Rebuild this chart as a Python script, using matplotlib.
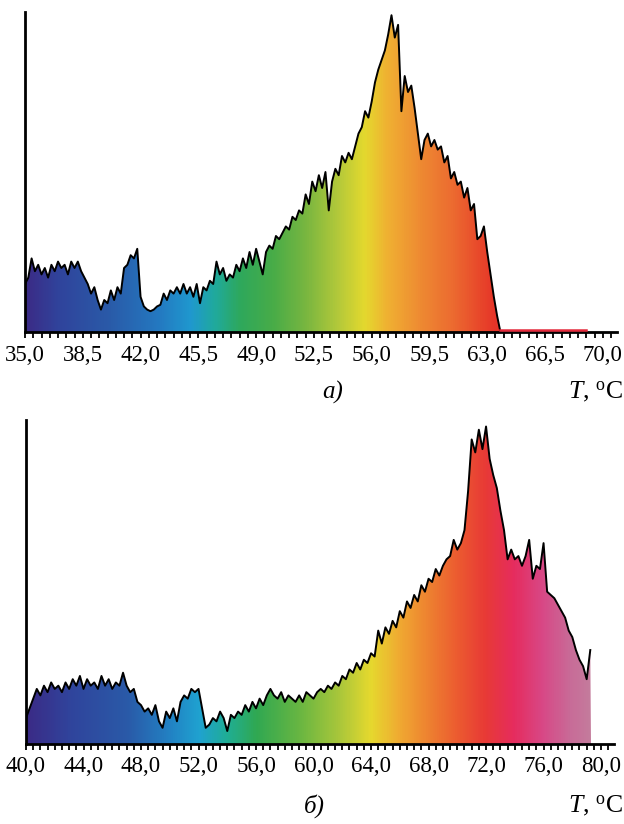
import numpy as np
import matplotlib
matplotlib.use("Agg")
import matplotlib.pyplot as plt
import matplotlib.transforms as mtransforms
from matplotlib.colors import LinearSegmentedColormap
from matplotlib.ticker import MultipleLocator

plt.rcParams['font.family'] = ['Liberation Serif', 'DejaVu Serif']
plt.rcParams['mathtext.fontset'] = 'custom'
plt.rcParams['mathtext.rm'] = 'Liberation Serif'
plt.rcParams['mathtext.it'] = 'Liberation Serif:italic'

# panel a) : 35.0 .. 63.8 step 0.2, then zero tail
a_start, a_step = 35.0, 0.2
a_vals = [15, 17, 23, 19, 21, 18, 20, 17, 21, 19,
          22, 20, 21, 18, 22, 20, 22, 19, 17, 15,
          12, 14, 10, 7, 10, 9, 13, 10, 14, 12,
          20, 21, 24, 23, 26, 11, 8, 7, 6.5, 7,
          8, 8.5, 12, 10, 13, 12, 14, 12, 15, 12,
          14, 11, 15, 9, 14, 13, 16, 15, 22, 18,
          20, 16, 18, 17, 21, 19, 23, 20, 25, 21,
          26, 22, 18, 25, 27, 26, 30, 29, 31, 33,
          32, 36, 35, 38, 37, 43, 40, 47, 44, 49,
          45, 50, 38, 47, 51, 49, 55, 53, 56, 54,
          58, 62, 64, 69, 67, 72, 78, 82, 85, 88,
          93, 99, 92, 96, 69, 80, 75, 77, 70, 62,
          54, 60, 62, 58, 60, 57, 58, 53, 55, 48,
          50, 46, 47, 42, 45, 38, 40, 29, 30, 33,
          25, 18, 11, 5, 0]
a_tail_end = 69.0
a_x = list(np.round(a_start + a_step * np.arange(len(a_vals)), 2)) + [a_tail_end]
a_y = a_vals + [0]

# panel б) : 40.0 .. 79.25 step 0.25
b_start, b_step = 40.0, 0.25
b_vals = [8, 11, 14, 17, 15, 18, 16, 19, 17, 18,
          16, 19, 17, 20, 18, 21, 17, 20, 18, 19,
          17, 21, 18, 20, 17, 19, 18, 22, 18, 16,
          17, 13, 12, 10, 11, 9, 12, 7, 5, 10,
          8, 11, 7, 13, 15, 14, 17, 16, 17, 11,
          5, 6, 8, 7, 10, 8, 4, 9, 8, 10,
          9, 12, 10, 13, 11, 14, 12, 15, 17, 15,
          14, 16, 13, 15, 14, 13, 15, 13, 16, 15,
          14, 16, 17, 16, 18, 17, 19, 18, 21, 20,
          23, 22, 25, 23, 26, 25, 28, 27, 35, 31,
          36, 34, 38, 36, 41, 39, 44, 42, 46, 44,
          49, 47, 51, 50, 54, 52, 55, 57, 58, 63,
          60, 62, 66, 78, 94, 90, 97, 91, 98, 88,
          83, 79, 72, 66, 57, 60, 57, 58, 55, 58,
          63, 51, 55, 54, 62, 47, 46, 45, 43, 41,
          39, 35, 33, 29, 26, 24, 20, 29]
b_end = 79.3
b_x = list(np.round(b_start + b_step * np.arange(len(b_vals)), 2)) + [b_end]
b_y = b_vals + [0]

a_colors = [(35.0, '#3b2b86'), (37.0, '#30449c'), (40.0, '#2a5aa8'), (43.0, '#2478c0'),
            (45.0, '#1f98cf'), (46.5, '#20aa9c'), (48.0, '#2ea85c'), (50.0, '#48ac48'),
            (52.0, '#78b640'), (54.0, '#b4c93a'), (55.6, '#e4d92e'), (57.0, '#f0b032'),
            (59.0, '#ee8a32'), (61.0, '#ec6a30'), (63.5, '#e63428'), (70.86, '#e63428')]
b_colors = [(40.0, '#3b2b86'), (43.0, '#30449c'), (47.0, '#2a5aa8'), (50.0, '#2282c4'),
            (52.0, '#1fa2d0'), (54.0, '#20ae94'), (56.0, '#30a852'), (59.0, '#68b642'),
            (62.0, '#aec83a'), (64.0, '#e6d92e'), (66.0, '#f0aa32'), (68.0, '#ee8230'),
            (70.0, '#ec5c30'), (72.0, '#e83a36'), (74.0, '#e62c5e'), (76.0, '#d84886'),
            (78.0, '#c86c98'), (80.9, '#c08ea2')]


def make_cmap(stops, x0, x1):
    pts = [min(max((p - x0) / (x1 - x0), 0.0), 1.0) for p, c in stops]
    pts[0], pts[-1] = 0.0, 1.0
    return LinearSegmentedColormap.from_list('grad', list(zip(pts, [c for p, c in stops])))


def draw_panel(ax, x, y, stops, xmin, xmax, major):
    x = np.asarray(x, float)
    y = np.asarray(y, float)
    cmap = make_cmap(stops, xmin, xmax)
    poly, = ax.fill(np.r_[x, x[-1], x[0]], np.r_[y, 0, 0],
                    facecolor='none', edgecolor='none')
    grad = np.linspace(0, 1, 800).reshape(1, -1)
    im = ax.imshow(grad, cmap=cmap, aspect='auto', extent=[xmin, xmax, 0, 100],
                   origin='lower', zorder=1, interpolation='bilinear')
    im.set_clip_path(poly)
    last = np.nonzero(y > 0)[0][-1]
    stop = last + 2 if last + 1 < len(y) - 1 else last + 1
    ax.plot(x[:stop], y[:stop], color='black', lw=1.4, zorder=3)
    if y[-1] == 0 and y[-2] == 0:
        up = mtransforms.offset_copy(ax.transData, fig=ax.figure, x=0, y=1.6,
                                     units='dots')
        ax.plot(x[last + 1:], y[last + 1:], color='#e42a3c', lw=1.8, zorder=3,
                transform=up)

    ax.set_xlim(xmin, xmax)
    ax.set_ylim(0, 100)
    ax.xaxis.set_major_locator(MultipleLocator(major))
    ax.xaxis.set_minor_locator(MultipleLocator(0.5))
    ax.xaxis.set_major_formatter(
        plt.FuncFormatter(lambda v, p: ('%.1f' % v).replace('.', ',')))
    ax.tick_params(axis='x', which='both', direction='out', length=4.5, width=1.3,
                   labelsize=16.5, pad=4.5, colors='black')
    ax.set_yticks([])
    for s in ['top', 'right']:
        ax.spines[s].set_visible(False)
    ax.spines['left'].set_linewidth(2.0)
    ax.spines['bottom'].set_linewidth(2.0)
    ax.set_facecolor('none')


fig = plt.figure(figsize=(6.24, 8.24), dpi=100)
W, H = 624, 824

ax1 = fig.add_axes([25 / W, (H - 332) / H, (617 - 25) / W, (332 - 12) / H])
draw_panel(ax1, a_x, a_y, a_colors, 35.0, 70.86, 3.5)

ax2 = fig.add_axes([26 / W, (H - 744) / H, (614 - 26) / W, (744 - 420) / H])
draw_panel(ax2, b_x, b_y, b_colors, 40.0, 80.9, 4.0)

fig.text(333 / W, 1 - 392 / H, 'а)', fontsize=18, style='italic',
         ha='center', va='center')
fig.text(623 / W, 1 - 392 / H, r'$T$, $^{\mathrm{o}}$C', fontsize=18.5,
         ha='right', va='center')
fig.text(314 / W, 1 - 806 / H, 'б)', fontsize=18, style='italic',
         ha='center', va='center')
fig.text(623 / W, 1 - 806 / H, r'$T$, $^{\mathrm{o}}$C', fontsize=18.5,
         ha='right', va='center')

fig.savefig('out.png', dpi=100)
